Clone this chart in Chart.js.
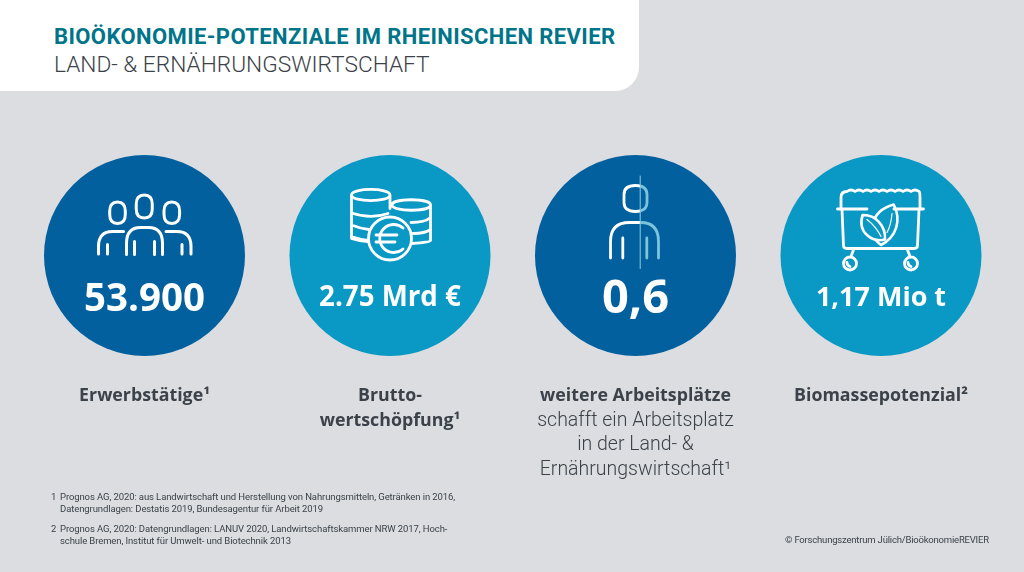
<!DOCTYPE html>
<html lang="de">
<head>
<meta charset="utf-8">
<title>Bioökonomie-Potenziale im Rheinischen Revier</title>
<script src="https://cdn.jsdelivr.net/npm/chart.js@4"></script>
<style>
  html, body { margin: 0; padding: 0; background: #dbdde1; }
  #wrap { position: relative; width: 1024px; height: 572px; overflow: hidden; font-family: Roboto, sans-serif; }
  canvas { position: absolute; left: 0; top: 0; }
  #panel { position: absolute; left: 0; top: 0; width: 639px; height: 91px; background: #fff; border-bottom-right-radius: 24px; }
  .t { position: absolute; white-space: nowrap; }
  #title { left: 54px; top: 23px; font-size: 22px; line-height: 28px; font-weight: 700; letter-spacing: 0.4px; color: #00758a; }
  #subtitle { left: 54px; top: 50px; font-size: 22.7px; line-height: 30px; font-weight: 300; color: #3c4249; }
  .foot { font-size: 9.5px; line-height: 12px; letter-spacing: -0.1px; color: #3c4249; }
</style>
</head>
<body>
<div id="wrap">
  <canvas id="myChart" width="1024" height="572"></canvas>
  <div id="panel"></div>
  <div class="t" id="title">BIOÖKONOMIE-POTENZIALE IM RHEINISCHEN REVIER</div>
  <div class="t" id="subtitle">LAND- &amp; ERNÄHRUNGSWIRTSCHAFT</div>
  <div class="t foot" style="left:51px;top:491px">1</div>
  <div class="t foot" style="left:60px;top:491px">Prognos AG, 2020: aus Landwirtschaft und Herstellung von Nahrungsmitteln, Getränken in 2016,</div>
  <div class="t foot" style="left:60px;top:503px">Datengrundlagen: Destatis 2019, Bundesagentur für Arbeit 2019</div>
  <div class="t foot" style="left:51px;top:523px">2</div>
  <div class="t foot" style="left:60px;top:523px">Prognos AG, 2020: Datengrundlagen: LANUV 2020, Landwirtschaftskammer NRW 2017, Hoch-</div>
  <div class="t foot" style="left:60px;top:535px">schule Bremen, Institut für Umwelt- und Biotechnik 2013</div>
  <div class="t foot" style="left:785px;top:534px;letter-spacing:-0.2px">© Forschungszentrum Jülich/BioökonomieREVIER</div>
</div>
<script>
const categories = ['Erwerbstätige', 'Bruttowertschöpfung', 'weitere Arbeitsplätze', 'Biomassepotenzial'];
const values = [53900, 2750000000, 0.6, 1170000];
const valueLabels = ['53.900', '2.75 Mrd €', '0,6', '1,17 Mio t'];
const captionBold = [['Erwerbstätige¹'], ['Brutto-', 'wertschöpfung¹'], ['weitere Arbeitsplätze'], ['Biomassepotenzial²']];
const captionLight = [[], [], ['schafft ein Arbeitsplatz', 'in der Land- &', 'Ernährungswirtschaft¹'], []];
const circleColors = ['#03609e', '#0a98c4', '#03609e', '#0a98c4'];

const valueFonts = [[700, 38.5, 55], [700, 27.7, 50], [700, 47, 57.5], [700, 27, 50.5]];

const ink = '#3c4249';

// rounded egg shape used for the heads
function head(cx, top, rx, h) {
  const b = top + h;
  return `M${cx} ${top} C${cx + rx * 0.7} ${top} ${cx + rx} ${top + 3} ${cx + rx} ${top + 9}
    V${b - 9} C${cx + rx} ${b - 3} ${cx + rx * 0.7} ${b} ${cx} ${b}
    C${cx - rx * 0.7} ${b} ${cx - rx} ${b - 3} ${cx - rx} ${b - 9}
    V${top + 9} C${cx - rx} ${top + 3} ${cx - rx * 0.7} ${top} ${cx} ${top} Z`;
}

// icons, relative to the circle centre
const people = new Path2D(`
  ${head(-0.25, -60.5, 8, 23)}
  ${head(-27, -53.5, 7.8, 21.5)}
  ${head(27.3, -53.5, 7.8, 21.5)}
  M-18 -1 V-12 Q-18 -28 -4 -28 H4 Q18 -28 18 -12 V-1
  M-10 -14 V-1 M10 -14 V-1
  M-46 -1.5 V-9 Q-46 -24 -32 -24 H-21
  M-37 -11 V-1.5
  M46.5 -1.5 V-9 Q46.5 -24 32.5 -24 H21.5
  M37.5 -11 V-1.5`);

const coinStacks = new Path2D(`
  M-38.5 -60.5 C-38.5 -68 0 -68 0 -60.5 C0 -53 -38.5 -53 -38.5 -60.5
  M-38.5 -60.5 V-17 Q-30 -14 -22 -14
  M0 -60.5 V-47
  M-38.5 -42.5 Q-19 -36 -2 -42
  M-38.5 -30.5 Q-30 -27 -21 -26
  M-38.5 -19 Q-30 -16 -22 -15
  M2 -50.5 C2 -57.5 40.5 -57.5 40.5 -50.5 C40.5 -43.5 2 -43.5 2 -50.5
  M40.5 -50.5 V-15 Q40.5 -13 22 -12
  M21 -33 Q35 -33 40.5 -38
  M23 -22 Q35 -22 40.5 -26`);
const coin = new Path2D('M21.5 -17 A21.5 21.5 0 1 1 -21.5 -17 A21.5 21.5 0 1 1 21.5 -17 Z');
const euro = new Path2D('M13 -27.5 A14 14 0 1 0 13 -6.5 M-14 -20.5 H7 M-14 -13.5 H5');

const person = new Path2D(`
  ${head(0, -70, 11.5, 26)}
  M-25 2.5 V-14 Q-25 -33 -6 -33 H5 Q23 -33 23 -14 V2.5
  M-12.7 -17.5 V2.5 M11.3 -17.5 V2.5`);

const bin = new Path2D(`
  M-40 -47 V-58 Q-40 -64 -34 -64
  q4 -3 8 0 q4 -3 8 0 q4 -3 8 0 q4 -3 8 0 q4 -3 8 0 q4 -3 8 0 q4 -3 8 0 q4 -3 8 0 q4 -3 8 0
  Q39 -64 39 -58 V-47
  M-43.5 -46.5 H-14 M13 -46.5 H42.5
  M-39 -46 L-37.5 -10 Q-37.5 -7 -34 -7 H33 Q36.5 -7 36.5 -10 L38 -46
  M-27 -7 L-30 1 M26 -7 L29 1
  M-24.5 8 A6.5 6.5 0 1 1 -37.5 8 A6.5 6.5 0 1 1 -24.5 8 Z
  M36.5 8 A6.5 6.5 0 1 1 23.5 8 A6.5 6.5 0 1 1 36.5 8 Z
  M-31 11 Q-34 10 -34 7 M30 11 Q27 10 27 7`);
const leafBig = new Path2D('M0 -10.5 C-14 -20 -12 -44 12.7 -51 C21 -35 15 -18 0 -10.5 Z');
const leafSmall = new Path2D('M-18.4 -40.5 C-24 -22 -8 -13 4 -16 C5 -30 -6 -41 -18.4 -40.5 Z');
const leafVeins = new Path2D('M-14 -36 Q-5 -29 0 -19 M11 -42 Q10 -30 6 -23');

function strokeIcon(ctx, path, w) {
  ctx.lineWidth = w;
  ctx.stroke(path);
}

const iconDrawers = [
  ctx => strokeIcon(ctx, people, 3),
  (ctx, bg) => {
    strokeIcon(ctx, coinStacks, 2.8);
    ctx.fillStyle = bg;
    ctx.fill(coin);
    strokeIcon(ctx, coin, 2.8);
    strokeIcon(ctx, euro, 2.8);
  },
  ctx => {
    ctx.save();
    ctx.beginPath();
    ctx.rect(-60, -90, 64.7, 120);
    ctx.clip();
    strokeIcon(ctx, person, 2.8);
    ctx.restore();
    ctx.save();
    ctx.beginPath();
    ctx.rect(4.7, -90, 60, 120);
    ctx.clip();
    ctx.strokeStyle = '#7cc3dc';
    strokeIcon(ctx, person, 2.8);
    ctx.restore();
    ctx.strokeStyle = '#8fcde3';
    ctx.lineWidth = 1;
    ctx.beginPath();
    ctx.moveTo(4.7, -79.5);
    ctx.lineTo(4.7, 13);
    ctx.stroke();
  },
  (ctx, bg) => {
    strokeIcon(ctx, bin, 2.8);
    strokeIcon(ctx, leafBig, 2.6);
    ctx.fillStyle = bg;
    ctx.fill(leafSmall);
    strokeIcon(ctx, leafSmall, 2.6);
    strokeIcon(ctx, leafVeins, 1.2);
  }
];

const circleLabels = {
  id: 'circleLabels',
  afterDatasetsDraw(chart) {
    const { ctx, scales: { x, y } } = chart;
    categories.forEach((c, i) => {
      const cx = x.getPixelForValue(i);
      const cy = y.getPixelForValue(0);
      const [weight, size, dy] = valueFonts[i];

      ctx.save();
      ctx.translate(cx, cy);
      ctx.strokeStyle = '#fff';
      ctx.lineCap = 'round';
      ctx.lineJoin = 'round';
      iconDrawers[i](ctx, circleColors[i]);
      ctx.restore();

      ctx.save();
      ctx.textAlign = 'center';
      ctx.textBaseline = 'alphabetic';
      ctx.fillStyle = '#fff';
      ctx.font = `${weight} ${size}px "Open Sans", sans-serif`;
      ctx.fillText(valueLabels[i], cx, cy + dy);

      let base = 401;
      ctx.fillStyle = ink;
      ctx.font = '700 17.8px "Open Sans", sans-serif';
      captionBold[i].forEach(line => {
        ctx.fillText(line, cx, base);
        base += 24.5;
      });
      ctx.font = '300 19.5px Roboto, sans-serif';
      captionLight[i].forEach(line => {
        ctx.fillText(line, cx, base);
        base += 24.5;
      });
      ctx.restore();
    });
  }
};

new Chart(document.getElementById('myChart').getContext('2d'), {
  type: 'bubble',
  data: {
    labels: categories,
    datasets: [{
      label: 'Bioökonomie-Potenziale',
      data: categories.map((c, i) => ({ x: c, y: 0, value: values[i] })),
      radius: 100.5,
      backgroundColor: circleColors,
      hoverBackgroundColor: circleColors,
      borderWidth: 0,
      clip: false
    }]
  },
  options: {
    responsive: false,
    devicePixelRatio: 1,
    animation: false,
    events: [],
    layout: { autoPadding: false, padding: { left: 21.75, right: 20.25, top: 0, bottom: 61 } },
    scales: {
      x: { type: 'category', labels: categories, offset: true, display: false },
      y: { type: 'linear', min: -1, max: 1, display: false }
    },
    plugins: {
      legend: { display: false },
      tooltip: { enabled: false }
    }
  },
  plugins: [circleLabels]
});
</script>
</body>
</html>
